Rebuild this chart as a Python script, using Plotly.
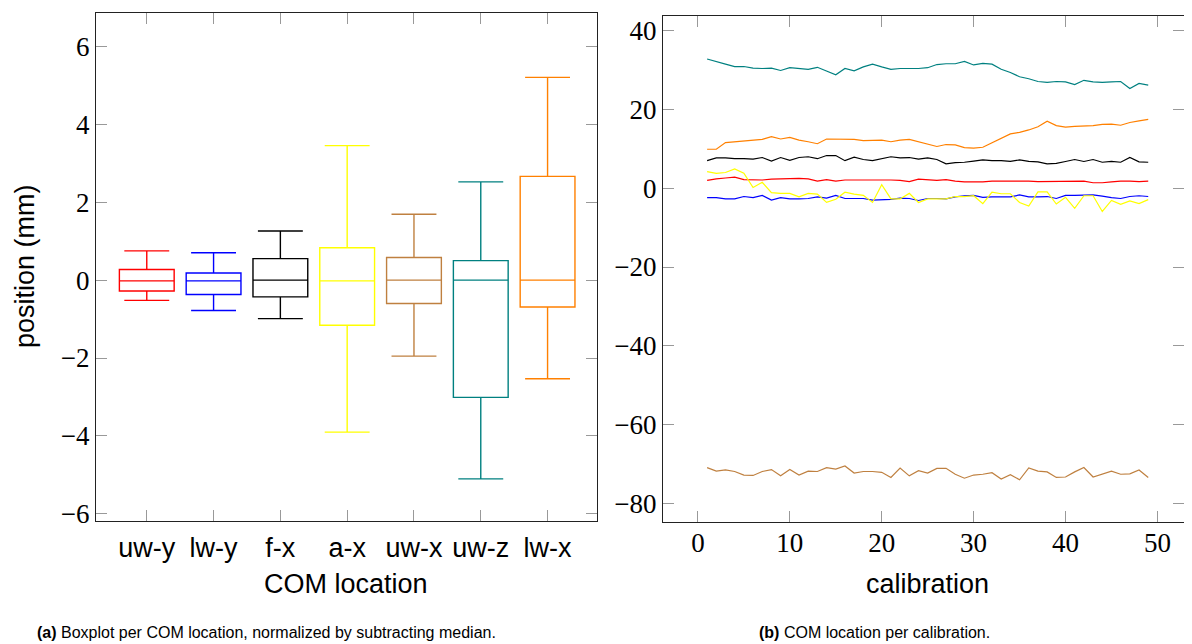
import plotly.graph_objects as go

# ---------------- data ----------------
box_labels = ["uw-y", "lw-y", "f-x", "a-x", "uw-x", "uw-z", "lw-x"]
box_positions = [1, 2, 3, 4, 5, 6, 7]
box_colors = ["#FF0000", "#0000FF", "#000000", "#FFFF00", "#BF8040", "#008080", "#FF8000"]
box_upper = [0.75, 0.70, 1.26, 3.45, 1.69, 2.52, 5.20]
box_q3 = [0.27, 0.18, 0.55, 0.83, 0.58, 0.50, 2.66]
box_median = [-0.02, -0.02, 0.0, -0.02, 0.0, 0.0, 0.0]
box_q1 = [-0.28, -0.37, -0.43, -1.16, -0.60, -3.01, -0.69]
box_lower = [-0.52, -0.78, -0.99, -3.90, -1.95, -5.10, -2.53]

calibration = list(range(1, 50))
uw_z = [32.8, 32.1, 31.5, 30.9, 30.9, 30.5, 30.4, 30.5, 29.9, 30.6,
        30.4, 30.2, 30.7, 29.8, 28.8, 30.4, 29.8, 30.8, 31.5, 30.8,
        30.2, 30.4, 30.4, 30.4, 30.6, 31.4, 31.6, 31.6, 32.2, 31.3,
        31.7, 31.5, 30.2, 29.4, 28.3, 27.8, 27.1, 26.9, 27.1, 27.0,
        26.3, 27.4, 27.0, 26.9, 27.0, 27.1, 25.3, 26.6, 26.2]
lw_x = [9.9, 9.9, 11.6, 11.8, 12.1, 12.2, 12.4, 13.1, 12.5, 12.9,
        12.2, 11.8, 11.3, 12.5, 12.5, 12.5, 12.4, 12.1, 12.2, 12.2,
        11.8, 12.2, 12.4, 11.8, 11.2, 10.6, 11.1, 11.0, 10.3, 10.2,
        10.4, 11.6, 12.7, 13.8, 14.2, 14.8, 15.6, 17.0, 15.9, 15.5,
        15.7, 15.8, 15.9, 16.2, 16.3, 16.0, 16.7, 17.1, 17.5]
f_x = [7.0, 7.7, 7.7, 7.5, 7.5, 7.4, 7.8, 6.9, 7.8, 7.1,
       7.8, 8.0, 7.5, 8.3, 8.3, 7.0, 7.9, 7.3, 7.0, 7.5,
       8.0, 7.7, 7.8, 7.4, 7.7, 7.3, 6.2, 6.5, 6.6, 6.9,
       7.2, 7.0, 7.0, 6.8, 7.2, 6.8, 6.7, 6.2, 6.3, 6.8,
       7.3, 6.8, 7.3, 6.6, 6.8, 6.6, 7.8, 6.7, 6.6]
uw_y = [2.0, 2.4, 2.6, 2.8, 2.2, 2.1, 2.1, 2.3, 2.4, 2.4,
        2.5, 2.4, 1.8, 2.2, 1.8, 2.1, 2.1, 2.2, 2.2, 2.2,
        2.1, 2.0, 1.7, 2.3, 2.1, 2.0, 2.2, 1.8, 1.6, 1.6,
        1.6, 1.8, 1.8, 1.9, 1.8, 1.8, 1.7, 1.7, 1.8, 1.7,
        1.7, 1.8, 1.4, 1.4, 1.6, 1.8, 1.8, 1.7, 1.8]
lw_y = [-2.4, -2.4, -2.7, -2.7, -2.1, -2.4, -1.8, -3.0, -2.4, -2.7,
        -2.7, -2.6, -2.2, -2.5, -1.8, -2.6, -2.6, -2.6, -3.0, -2.9,
        -2.8, -2.5, -2.6, -3.1, -2.6, -2.6, -2.7, -2.2, -1.9, -1.8,
        -2.3, -2.2, -2.2, -2.2, -1.7, -2.2, -2.2, -2.1, -2.6, -1.8,
        -1.8, -1.8, -1.7, -2.0, -2.4, -2.6, -2.1, -1.9, -2.1]
a_x = [4.2, 3.8, 4.0, 4.9, 3.8, 0.2, 1.5, -1.1, -1.3, -1.3,
       -2.2, -1.3, -1.5, -3.6, -2.8, -1.0, -1.5, -1.8, -3.6, 0.9,
       -2.7, -2.7, -1.3, -3.6, -2.7, -2.7, -2.7, -2.1, -2.1, -1.9,
       -3.9, -1.0, -1.4, -1.4, -3.6, -4.5, -0.9, -0.9, -4.0, -2.3,
       -5.1, -1.9, -1.9, -5.9, -3.1, -4.1, -3.2, -3.9, -2.9]
uw_x = [-70.9, -71.8, -71.5, -71.9, -72.8, -72.9, -71.9, -71.4, -73.0, -71.4,
        -72.8, -71.8, -71.9, -70.9, -71.3, -70.5, -72.3, -71.9, -71.9, -72.1,
        -73.4, -71.0, -73.0, -71.7, -72.3, -71.1, -71.1, -72.6, -73.6, -72.8,
        -72.6, -72.2, -73.8, -72.7, -74.0, -71.0, -71.8, -72.0, -73.4, -73.3,
        -72.0, -70.9, -73.3, -72.5, -71.8, -72.6, -72.5, -71.5, -73.4]

line_series = [
    ("uw-z", uw_z, "#008080"),
    ("lw-x", lw_x, "#FF8000"),
    ("f-x", f_x, "#000000"),
    ("uw-y", uw_y, "#FF0000"),
    ("lw-y", lw_y, "#0000FF"),
    ("a-x", a_x, "#FFFF00"),
    ("uw-x", uw_x, "#BF8040"),
]

# page body has an 8px margin; vertical screen scale observed ~644/652
OFF = 8
KY = 652 / 644
W, H = 1192 - 2 * OFF, 636
SERIF = "Liberation Serif"
SANS = "Liberation Sans"

fig = go.Figure()

for i, lab in enumerate(box_labels):
    fig.add_trace(go.Box(
        x=[box_positions[i]], q1=[box_q1[i]], median=[box_median[i]], q3=[box_q3[i]],
        lowerfence=[box_lower[i]], upperfence=[box_upper[i]],
        name=lab, width=0.82, whiskerwidth=0.82, boxpoints=False,
        line=dict(color=box_colors[i], width=1.4), fillcolor="rgba(255,255,255,0)",
        xaxis="x", yaxis="y", showlegend=False,
    ))

for name, vals, col in line_series:
    fig.add_trace(go.Scatter(
        x=calibration, y=vals, mode="lines", name=name,
        line=dict(color=col, width=1.2), xaxis="x2", yaxis="y2", showlegend=False,
    ))

# invisible trace so the right-hand tick axis (y3) is drawn
fig.add_trace(go.Scatter(x=calibration, y=uw_x, mode="lines", xaxis="x2", yaxis="y3",
                         line=dict(color="rgba(0,0,0,0)", width=0), hoverinfo="skip",
                         showlegend=False))

def px(x):
    return min(1.0, max(0.0, (x - OFF) / W))

def py(y):
    return min(1.0, max(0.0, 1 - (y * KY - OFF) / H))

axis_common = dict(
    showgrid=False, zeroline=False, showline=True, linecolor="#222", linewidth=1.3,
    mirror="ticks", ticks="inside", ticklen=11, tickcolor="#999", tickwidth=1.2,
)

x2_left = -3.8
x2_right = x2_left + (1184 - 663) / 9.19
y2_range = [-84.7, 43.7]
y2_ticks = [-80, -60, -40, -20, 0, 20, 40]

fig.update_layout(
    width=W, height=H, margin=dict(l=0, r=0, t=0, b=0),
    paper_bgcolor="white", plot_bgcolor="white",
    xaxis=dict(domain=[px(96), px(597)], range=[0.24, 7.74], tickmode="array",
               tickvals=box_positions, ticktext=box_labels,
               tickfont=dict(family=SANS, size=27, color="black"), ticklabelstandoff=3,
               anchor="y", **axis_common),
    yaxis=dict(domain=[py(521), py(13)], range=[-6.18, 6.85], tickmode="array",
               tickvals=[-6, -4, -2, 0, 2, 4, 6],
               tickfont=dict(family=SERIF, size=27, color="black"), ticklabelstandoff=0,
               anchor="x", **axis_common),
    xaxis2=dict(domain=[px(663), 1.0], range=[x2_left, x2_right], tickmode="array",
                tickvals=[0, 10, 20, 30, 40, 50],
                tickfont=dict(family=SERIF, size=27, color="black"), ticklabelstandoff=-3,
                anchor="y2", **axis_common),
    yaxis2=dict(domain=[py(522), py(16)], range=y2_range, tickmode="array",
                tickvals=y2_ticks,
                tickfont=dict(family=SERIF, size=27, color="black"), ticklabelstandoff=0,
                anchor="x2", showgrid=False, zeroline=False, showline=True,
                linecolor="#222", linewidth=1.3, mirror=False, ticks="inside",
                ticklen=11, tickcolor="#999", tickwidth=1.2),
    yaxis3=dict(overlaying="y2", side="right", anchor="x2", range=y2_range,
                tickmode="array", tickvals=y2_ticks, showticklabels=False,
                showgrid=False, zeroline=False, showline=False, ticks="inside",
                ticklen=11, tickcolor="#999", tickwidth=1.2),
)

annotations = [
    dict(text="position (mm)", x=px(25), y=py(266), textangle=-90,
         font=dict(family=SANS, size=27, color="black")),
    dict(text="COM location", x=px(346), y=py(584),
         font=dict(family=SANS, size=27, color="black")),
    dict(text="calibration", x=px(927), y=py(584),
         font=dict(family=SANS, size=27, color="black")),
    dict(text="<b>(a)</b> Boxplot per COM location, normalized by subtracting median.",
         x=px(266), y=py(633), font=dict(family=SANS, size=16, color="black")),
    dict(text="<b>(b)</b> COM location per calibration.",
         x=px(874), y=py(633), font=dict(family=SANS, size=16, color="black")),
]
for a in annotations:
    a.update(xref="paper", yref="paper", showarrow=False, xanchor="center", yanchor="middle")
fig.update_layout(annotations=annotations)

fig.write_html("out.html")
